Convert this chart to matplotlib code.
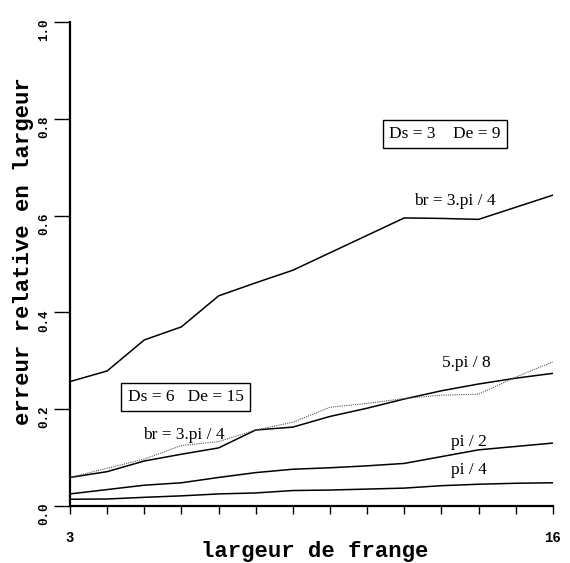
import numpy as np
import matplotlib
matplotlib.use('Agg')
import matplotlib.pyplot as plt
from matplotlib.transforms import ScaledTranslation

# largeur de frange
x = [3, 4, 5, 6, 7, 8, 9, 10, 11, 12, 13, 14, 15, 16]

# Ds=3 De=9
br_3pi4 = [0.257, 0.279, 0.343, 0.370, 0.434, 0.461, 0.487, 0.523, 0.559, 0.595, 0.594, 0.592, 0.617, 0.642]
br_5pi8 = [0.059, 0.071, 0.093, 0.107, 0.120, 0.157, 0.163, 0.185, 0.202, 0.221, 0.238, 0.252, 0.264, 0.274]
br_pi2 = [0.025, 0.034, 0.043, 0.048, 0.059, 0.069, 0.076, 0.079, 0.083, 0.088, 0.102, 0.116, 0.123, 0.130]
br_pi4 = [0.014, 0.0145, 0.018, 0.021, 0.025, 0.027, 0.032, 0.033, 0.035, 0.037, 0.042, 0.045, 0.047, 0.048]
# Ds=6 De=15, br=3.pi/4 (pointille)
ds6_3pi4 = [0.059, 0.078, 0.097, 0.125, 0.133, 0.157, 0.173, 0.204, 0.212, 0.222, 0.229, 0.231, 0.266, 0.298]

yticks = [0.0, 0.2, 0.4, 0.6, 0.8, 1.0]
ytick_labels = ['0.0', '0.2', '0.4', '0.6', '0.8', '1.0']

mono = 'Liberation Mono'
serif = 'Liberation Serif'

fig = plt.figure(figsize=(5.7, 5.63), dpi=100)
ax = fig.add_axes([0.1228, 0.1012, 0.847, 0.860])

for ys in [br_3pi4, br_5pi8, br_pi2, br_pi4]:
    ax.plot(x, ys, color='black', lw=1.1)
ax.plot(x, ds6_3pi4, color='#555555', lw=0.8, ls=(0, (1, 1)))

ax.set_xlim(3, 16)
ax.set_ylim(0, 1.0)
ax.spines['top'].set_visible(False)
ax.spines['right'].set_visible(False)
ax.spines['left'].set_linewidth(1.6)
ax.spines['bottom'].set_linewidth(1.6)

ax.set_xticks(x)
ax.set_xticklabels(['3'] + [''] * 12 + ['16'], fontfamily=mono, fontweight='bold', fontsize=10)
ax.set_yticks(yticks)
ax.set_yticklabels(ytick_labels, fontfamily=mono, fontweight='bold', fontsize=9, rotation=90, va='center')
ax.tick_params(axis='x', direction='out', length=6, width=1, pad=12)
ax.tick_params(axis='y', direction='out', length=11.5, width=1, pad=3)
# labels sit a little below their ticks in the original
shift = ScaledTranslation(0, -8 / 100, fig.dpi_scale_trans)
for lbl in ax.get_yticklabels():
    lbl.set_transform(lbl.get_transform() + shift)

ax.set_xlabel('largeur de frange', fontfamily=mono, fontweight='bold', fontsize=16, va='center')
ax.xaxis.set_label_coords(0.507, -0.093)
ax.set_ylabel('erreur relative en largeur', fontfamily=mono, fontweight='bold', fontsize=16, va='center')
ax.yaxis.set_label_coords(-0.097, 0.527)

box = dict(boxstyle='square,pad=0.35', facecolor='white', edgecolor='black', lw=1.0)
fs = 12.5
ax.text(13.09, 0.769, 'Ds = 3    De = 9', fontfamily=serif, fontsize=fs, ha='center', va='center', bbox=box)
ax.text(13.36, 0.629, 'br = 3.pi / 4', fontfamily=serif, fontsize=fs, ha='center', va='center')
ax.text(13.66, 0.295, '5.pi / 8', fontfamily=serif, fontsize=fs, ha='center', va='center')
ax.text(13.74, 0.133, 'pi / 2', fontfamily=serif, fontsize=fs, ha='center', va='center')
ax.text(13.74, 0.074, 'pi / 4', fontfamily=serif, fontsize=fs, ha='center', va='center')
ax.text(6.11, 0.225, 'Ds = 6   De = 15', fontfamily=serif, fontsize=fs, ha='center', va='center', bbox=box)
ax.text(6.07, 0.147, 'br = 3.pi / 4', fontfamily=serif, fontsize=fs, ha='center', va='center')

fig.savefig('out.png', dpi=100)
